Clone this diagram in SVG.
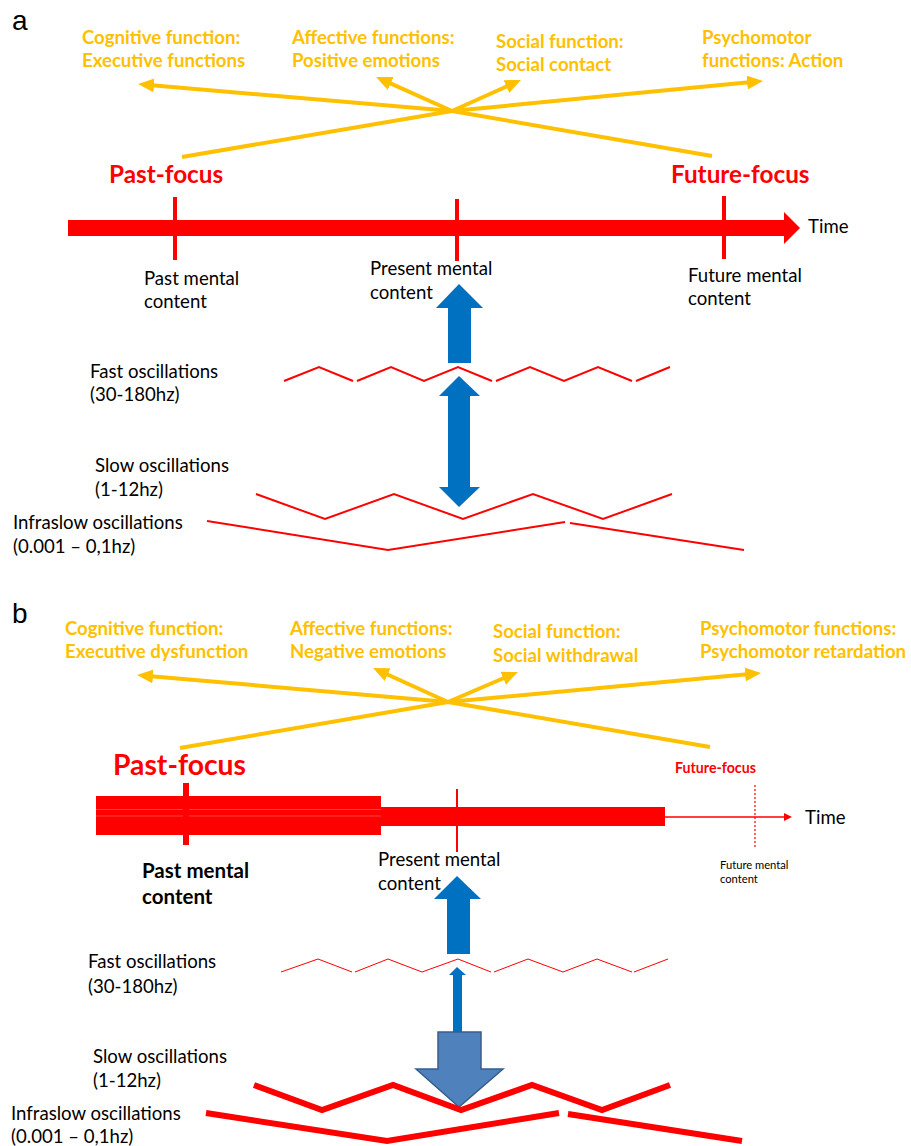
<svg xmlns="http://www.w3.org/2000/svg" width="911" height="1146" viewBox="0 0 911 1146">
<style>
.pl{font-family:"Liberation Sans",Arial,sans-serif;font-size:28px;fill:#000}
.y{font-family:Lato,"Liberation Sans",sans-serif;font-weight:bold;font-size:18.6px;fill:#FFC000}
.k{font-family:Lato,"Liberation Sans",sans-serif;font-size:18.6px;fill:#000}
.kb{font-family:Lato,"Liberation Sans",sans-serif;font-weight:bold;font-size:20.5px;fill:#000}
.ks{font-family:Lato,"Liberation Sans",sans-serif;font-size:11.2px;fill:#000}
.rf{font-family:Lato,"Liberation Sans",sans-serif;font-weight:bold;fill:#FF0000}
.yl{stroke:#FFC000;stroke-width:4;fill:none}
.osc{stroke:#FF0000;fill:none;stroke-linejoin:miter}
.blue{fill:#0070C0}
</style>
<defs>
<marker id="ya" markerWidth="16" markerHeight="14" refX="2" refY="7" orient="auto" markerUnits="userSpaceOnUse">
<path d="M0,0 L16,7 L0,14 Z" fill="#FFC000"/>
</marker>
</defs>

<g id="panel-a-label"><text class="pl" x="12" y="30">a</text></g>

<g id="connectors">
<!-- panel a yellow -->
<line class="yl" x1="452" y1="111" x2="182" y2="157"/>
<line class="yl" x1="452" y1="111" x2="712" y2="156"/>
<line class="yl" x1="452" y1="111" x2="152" y2="85.2" marker-end="url(#ya)"/>
<line class="yl" x1="452" y1="111" x2="388.8" y2="82.7" marker-end="url(#ya)"/>
<line class="yl" x1="452" y1="111" x2="508.2" y2="85.7" marker-end="url(#ya)"/>
<line class="yl" x1="452" y1="111" x2="749.1" y2="82.3" marker-end="url(#ya)"/>
<!-- panel b yellow -->
<line class="yl" x1="448" y1="702" x2="180" y2="748"/>
<line class="yl" x1="448" y1="702" x2="710" y2="747"/>
<line class="yl" x1="448" y1="702" x2="151" y2="676.2" marker-end="url(#ya)"/>
<line class="yl" x1="448" y1="702" x2="385.8" y2="673.8" marker-end="url(#ya)"/>
<line class="yl" x1="448" y1="702" x2="505.1" y2="677.5" marker-end="url(#ya)"/>
<line class="yl" x1="448" y1="702" x2="747.1" y2="674.3" marker-end="url(#ya)"/>
<!-- panel a blue arrows -->
<polygon class="blue" points="459,284 483,308 471,308 471,363 448,363 448,308 436,308"/>
<polygon class="blue" points="459,376 480,396 470,396 470,487 480,487 459,507 439,487 448,487 448,396 439,396"/>
<!-- panel b blue arrows -->
<polygon class="blue" points="457,876 481,899 470,899 470,954 447,954 447,899 434,899"/>
<polygon class="blue" points="457,967 466,975 462,975 462,1032 453,1032 453,975 449,975"/>
<polygon points="438,1032 481,1032 481,1069 503,1069 459,1107 416,1069 438,1069" fill="#4F81BD" stroke="#385D8A" stroke-width="1.5"/>
</g>

<g id="a-cognitive"><text class="y" x="82" y="44">Cognitive function:</text><text class="y" x="82" y="67">Executive functions</text></g>
<g id="a-affective"><text class="y" x="292" y="44">Affective functions:</text><text class="y" x="292" y="67">Positive emotions</text></g>
<g id="a-social"><text class="y" x="496" y="48">Social function:</text><text class="y" x="496" y="71">Social contact</text></g>
<g id="a-psychomotor"><text class="y" x="702" y="44">Psychomotor</text><text class="y" x="702" y="67">functions: Action</text></g>

<g id="a-past-focus"><text class="rf" x="109" y="183" style="font-size:24.3px">Past-focus</text></g>
<g id="a-future-focus"><text class="rf" x="671" y="183" style="font-size:24.3px">Future-focus</text></g>

<g id="a-timeline">
<path d="M68,220 L784,220 L784,212 L800,228 L784,244 L784,236 L68,236 Z" fill="#FF0000"/>
<rect x="173" y="197" width="4" height="63" fill="#FF0000"/>
<rect x="455" y="199" width="4" height="62" fill="#FF0000"/>
<rect x="722" y="196" width="4" height="63" fill="#FF0000"/>
<text class="k" x="808" y="233">Time</text>
</g>

<g id="a-past-content"><text class="k" x="144" y="285">Past mental</text><text class="k" x="144" y="308">content</text></g>
<g id="a-present-content"><text class="k" x="370" y="275">Present mental</text><text class="k" x="370" y="299">content</text></g>
<g id="a-future-content"><text class="k" x="688" y="282">Future mental</text><text class="k" x="688" y="305">content</text></g>

<g id="a-fast">
<text class="k" x="90" y="378">Fast oscillations</text><text class="k" x="90" y="401">(30-180hz)</text>
<polyline class="osc" stroke-width="2" points="284,381 319,367 353,381"/>
<polyline class="osc" stroke-width="2" points="357,381 391,367 424,381 458,367 492,381"/>
<polyline class="osc" stroke-width="2" points="496,381 530,367 564,381 598,367 632,381"/>
<polyline class="osc" stroke-width="2" points="636,381 670,367"/>
</g>
<g id="a-slow">
<text class="k" x="95" y="472">Slow oscillations</text><text class="k" x="95" y="496">(1-12hz)</text>
<polyline class="osc" stroke-width="2" points="256,494 325,519 394,494 463,519 533,494 603,519 672,494"/>
</g>
<g id="a-infraslow">
<text class="k" x="13" y="529">Infraslow oscillations</text><text class="k" x="13" y="553">(0.001 – 0,1hz)</text>
<polyline class="osc" stroke-width="2" points="207,521 388,550 565,522"/>
<polyline class="osc" stroke-width="2" points="570,523 744,550"/>
</g>

<g id="panel-b-label"><text class="pl" x="12" y="623">b</text></g>

<g id="b-cognitive"><text class="y" x="65" y="635">Cognitive function:</text><text class="y" x="65" y="658">Executive dysfunction</text></g>
<g id="b-affective"><text class="y" x="290" y="635">Affective functions:</text><text class="y" x="290" y="658">Negative emotions</text></g>
<g id="b-social"><text class="y" x="493" y="638">Social function:</text><text class="y" x="493" y="662">Social withdrawal</text></g>
<g id="b-psychomotor"><text class="y" x="700" y="635">Psychomotor functions:</text><text class="y" x="700" y="658">Psychomotor retardation</text></g>

<g id="b-past-focus"><text class="rf" x="113" y="775" style="font-size:28.3px">Past-focus</text></g>
<g id="b-future-focus"><text class="rf" x="675" y="773" style="font-size:14.2px">Future-focus</text></g>

<g id="b-timeline">
<rect x="96" y="796" width="285" height="39" fill="#FF0000"/>
<line x1="96" y1="809.5" x2="381" y2="809.5" stroke="#FF5050" stroke-width="0.8"/>
<line x1="96" y1="816" x2="381" y2="816" stroke="#FF5050" stroke-width="0.8"/>
<rect x="381" y="807" width="284" height="19" fill="#FF0000"/>
<line x1="665" y1="817" x2="785" y2="817" stroke="#FF0000" stroke-width="1.5"/>
<polygon points="784,813 792,817 784,821" fill="#FF0000"/>
<rect x="183" y="783" width="6" height="62" fill="#FF0000"/>
<rect x="456" y="789" width="2" height="63" fill="#FF0000"/>
<line x1="755" y1="785" x2="755" y2="848" stroke="#FF0000" stroke-width="1.2" stroke-dasharray="2 2"/>
<text class="k" x="805" y="824">Time</text>
</g>

<g id="b-past-content"><text class="kb" x="142" y="878">Past mental</text><text class="kb" x="142" y="904">content</text></g>
<g id="b-present-content"><text class="k" x="378" y="866">Present mental</text><text class="k" x="378" y="890">content</text></g>
<g id="b-future-content"><text class="ks" x="720" y="869">Future mental</text><text class="ks" x="720" y="883">content</text></g>

<g id="b-fast">
<text class="k" x="88" y="968">Fast oscillations</text><text class="k" x="88" y="993">(30-180hz)</text>
<polyline class="osc" stroke-width="1" points="281,972 318,959 352,972"/>
<polyline class="osc" stroke-width="1" points="355,972 388,959 422,972 458,959 491,972"/>
<polyline class="osc" stroke-width="1" points="494,972 528,959 563,972 597,959 632,972"/>
<polyline class="osc" stroke-width="1" points="634,972 668,959"/>
</g>
<g id="b-slow">
<text class="k" x="93" y="1063">Slow oscillations</text><text class="k" x="93" y="1087">(1-12hz)</text>
<polyline class="osc" stroke-width="6" points="254,1085 322,1110 393,1085 461,1110 532,1085 602,1110 670,1085"/>
</g>
<g id="b-infraslow">
<text class="k" x="11" y="1120">Infraslow oscillations</text><text class="k" x="11" y="1143">(0.001 – 0,1hz)</text>
<polyline class="osc" stroke-width="6" points="206,1113 387,1141 559,1113"/>
<polyline class="osc" stroke-width="6" points="568,1114 742,1141"/>
</g>
</svg>
